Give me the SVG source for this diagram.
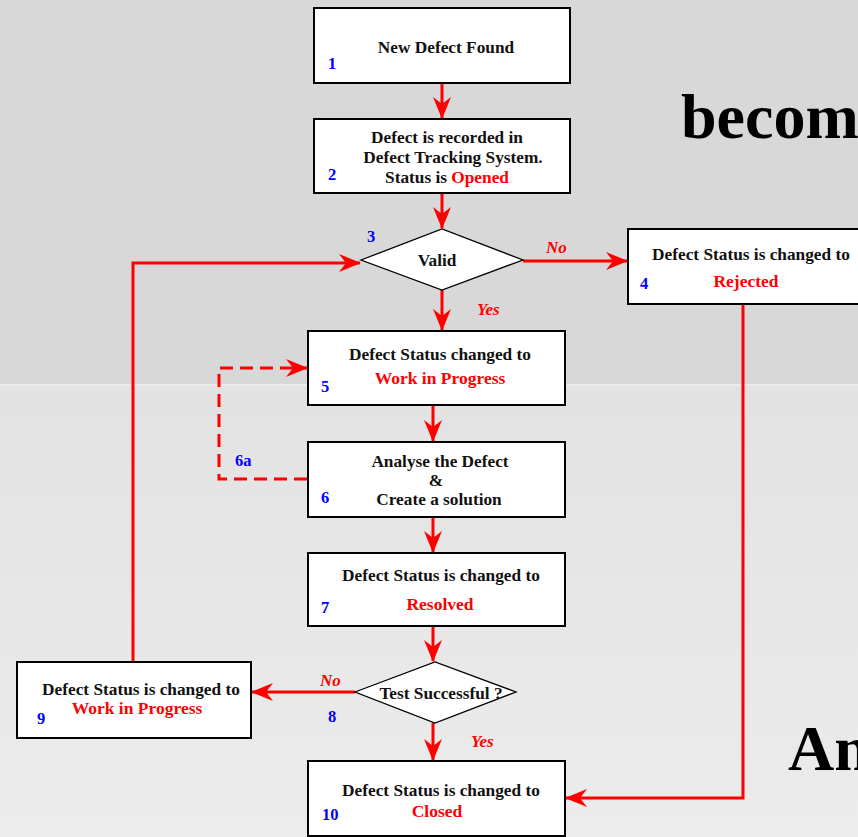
<svg xmlns="http://www.w3.org/2000/svg" width="858" height="837" viewBox="0 0 858 837">
  <defs>
    <linearGradient id="bgLower" x1="0" y1="0" x2="0" y2="1">
      <stop offset="0" stop-color="#e2e2e2"/>
      <stop offset="1" stop-color="#ececec"/>
    </linearGradient>
    <marker id="arrow" viewBox="-22 -10 24 20" refX="0" refY="0" markerWidth="24" markerHeight="20" markerUnits="userSpaceOnUse" orient="auto">
      <path d="M1,0 L-21,-9 L-14,0 L-21,9 z" fill="#ff0000"/>
    </marker>
  </defs>
  <style>
    .box { fill: #ffffff; stroke: #000000; stroke-width: 2; }
    .dia { fill: #ffffff; stroke: #000000; stroke-width: 1.3; }
    .t { font-family: "Liberation Serif", "Times New Roman", serif; font-weight: bold; font-size: 17.3px; fill: #111111; text-anchor: middle; }
    .st { font-family: "Liberation Serif", "Times New Roman", serif; font-weight: bold; font-size: 17.5px; fill: #ff0000; text-anchor: middle; }
    .num { font-family: "Liberation Serif", "Times New Roman", serif; font-weight: bold; font-size: 16.5px; fill: #0000ff; }
    .lbl { font-family: "Liberation Serif", "Times New Roman", serif; font-weight: bold; font-style: italic; font-size: 17px; fill: #ff0000; }
    .big { font-family: "Liberation Serif", "Times New Roman", serif; font-weight: bold; font-size: 64px; fill: #000000; }
    .wire { fill: none; stroke: #ff0000; stroke-width: 3; }
    .dash { fill: none; stroke: #ff0000; stroke-width: 3; stroke-dasharray: 13 7; }
  </style>

  <!-- slide background -->
  <rect x="0" y="0" width="858" height="385" fill="#d8d8d8"/>
  <rect x="0" y="385" width="858" height="452" fill="url(#bgLower)"/>
  <line x1="0" y1="385" x2="858" y2="385" stroke="#f2f2f2" stroke-width="1.5"/>
  <text class="big" x="681" y="138">becom</text>
  <text class="big" x="788" y="770">An</text>

  <!-- connectors -->
  <g id="connectors">
    <line class="wire" x1="442" y1="83" x2="442" y2="118" marker-end="url(#arrow)"/>
    <line class="wire" x1="442" y1="193" x2="442" y2="228" marker-end="url(#arrow)"/>
    <line class="wire" x1="442" y1="290" x2="442" y2="330" marker-end="url(#arrow)"/>
    <text class="lbl" x="477" y="315">Yes</text>
    <line class="wire" x1="523" y1="261" x2="627" y2="261" marker-end="url(#arrow)"/>
    <text class="lbl" x="546" y="253">No</text>
    <polyline class="wire" points="743,304 743,798 566,798" marker-end="url(#arrow)"/>
    <line class="wire" x1="433" y1="405" x2="433" y2="441" marker-end="url(#arrow)"/>
    <line class="wire" x1="433" y1="517" x2="433" y2="552" marker-end="url(#arrow)"/>
    <line class="wire" x1="433" y1="626" x2="433" y2="661" marker-end="url(#arrow)"/>
    <line class="wire" x1="433" y1="723" x2="433" y2="760" marker-end="url(#arrow)"/>
    <text class="lbl" x="471" y="747">Yes</text>
    <line class="wire" x1="355" y1="692" x2="252" y2="692" marker-end="url(#arrow)"/>
    <text class="lbl" x="320" y="686">No</text>
    <polyline class="wire" points="133,662 133,263 360,263" marker-end="url(#arrow)"/>
    <polyline class="dash" points="307,479 219,479 219,368 307,368" marker-end="url(#arrow)"/>
    <text class="num" x="235" y="466">6a</text>
  </g>

  <!-- step 1 -->
  <g id="n1">
    <rect class="box" x="314" y="8" width="256" height="75"/>
    <text class="t" x="446" y="53">New Defect Found</text>
    <text class="num" x="328" y="69">1</text>
  </g>

  <!-- step 2 -->
  <g id="n2">
    <rect class="box" x="314" y="119" width="256" height="74"/>
    <text class="t" x="447" y="143">Defect is recorded in</text>
    <text class="t" x="453" y="163">Defect Tracking System.</text>
    <text class="t" x="447" y="183">Status is <tspan fill="#ff0000">Opened</tspan></text>
    <text class="num" x="328" y="180">2</text>
  </g>

  <!-- step 3 -->
  <g id="n3">
    <polygon class="dia" points="361,260 442,229 523,260 442,290"/>
    <text class="t" x="437" y="266">Valid</text>
    <text class="num" x="367" y="242">3</text>
  </g>

  <!-- step 4 -->
  <g id="n4">
    <rect class="box" x="628" y="229" width="240" height="75"/>
    <text class="t" x="751" y="260">Defect Status is changed to</text>
    <text class="st" x="746" y="287">Rejected</text>
    <text class="num" x="640" y="289">4</text>
  </g>

  <!-- step 5 -->
  <g id="n5">
    <rect class="box" x="308" y="331" width="257" height="74"/>
    <text class="t" x="440" y="360">Defect Status changed to</text>
    <text class="st" x="440" y="384">Work in Progress</text>
    <text class="num" x="321" y="392">5</text>
  </g>

  <!-- step 6 -->
  <g id="n6">
    <rect class="box" x="308" y="442" width="257" height="75"/>
    <text class="t" x="440" y="467">Analyse the Defect</text>
    <text class="t" x="436" y="486">&amp;</text>
    <text class="t" x="439" y="505">Create a solution</text>
    <text class="num" x="321" y="503">6</text>
  </g>

  <!-- step 7 -->
  <g id="n7">
    <rect class="box" x="308" y="553" width="257" height="73"/>
    <text class="t" x="441" y="581">Defect Status is changed to</text>
    <text class="st" x="440" y="610">Resolved</text>
    <text class="num" x="321" y="613">7</text>
  </g>

  <!-- step 8 -->
  <g id="n8">
    <polygon class="dia" points="355,692 435,662 516,692 435,723"/>
    <text class="t" x="441" y="699">Test Successful ?</text>
    <text class="num" x="328" y="722">8</text>
  </g>

  <!-- step 9 -->
  <g id="n9">
    <rect class="box" x="17" y="662" width="234" height="76"/>
    <text class="t" x="141" y="695">Defect Status is changed to</text>
    <text class="st" x="137" y="714">Work in Progress</text>
    <text class="num" x="37" y="724">9</text>
  </g>

  <!-- step 10 -->
  <g id="n10">
    <rect class="box" x="308" y="761" width="257" height="75"/>
    <text class="t" x="441" y="796">Defect Status is changed to</text>
    <text class="st" x="437" y="817">Closed</text>
    <text class="num" x="322" y="820">10</text>
  </g>
</svg>
